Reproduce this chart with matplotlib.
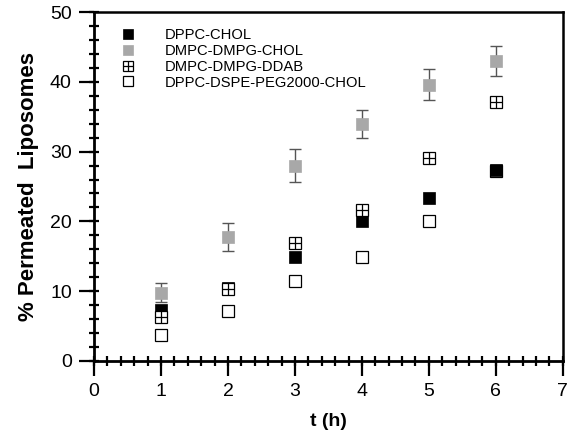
import matplotlib
matplotlib.use('Agg')
import matplotlib.pyplot as plt
from matplotlib.ticker import MultipleLocator

plt.rcParams['font.family'] = ['Liberation Sans', 'DejaVu Sans']

t = [1, 2, 3, 4, 5, 6]
dppc_chol = [7.3, 10.4, 14.9, 20.0, 23.3, 27.4]
dmpc_dmpg_chol = [9.8, 17.7, 28.0, 33.9, 39.6, 43.0]
dmpc_dmpg_chol_err = [1.3, 2.0, 2.4, 2.0, 2.2, 2.2]
dmpc_dmpg_ddab = [6.3, 10.3, 16.9, 21.7, 29.1, 37.1]
dppc_peg = [3.7, 7.1, 11.5, 14.9, 20.1, 27.2]

labels = ['DPPC-CHOL', 'DMPC-DMPG-CHOL', 'DMPC-DMPG-DDAB', 'DPPC-DSPE-PEG2000-CHOL']

fig = plt.figure(figsize=(5.72, 4.37), dpi=100)
ax = fig.add_axes([0.1643, 0.174, 0.8197, 0.7985])

ms = 9
h_open, = ax.plot(t, dppc_peg, 's', ms=ms, mfc='white', mec='black', mew=0.9, zorder=3)
ax.errorbar(t, dmpc_dmpg_chol, yerr=dmpc_dmpg_chol_err, fmt='none', ecolor='#555555',
            elinewidth=1.0, capsize=4, capthick=1.0, zorder=2)
h_gray, = ax.plot(t, dmpc_dmpg_chol, 's', ms=ms, mfc='#a8a8a8', mec='#a8a8a8', mew=0.5, zorder=3)
h_black, = ax.plot(t, dppc_chol, 's', ms=ms, mfc='black', mec='black', mew=0.5, zorder=4)
h_hsq, = ax.plot(t, dmpc_dmpg_ddab, 's', ms=ms, mfc='white', mec='black', mew=0.9, zorder=5)
h_hplus, = ax.plot(t, dmpc_dmpg_ddab, '+', ms=ms, mec='black', mew=0.9, zorder=6)

ax.legend([h_black, h_gray, (h_hsq, h_hplus), h_open], labels,
          loc='upper left', bbox_to_anchor=(0.034, 0.98), frameon=False,
          fontsize=10.6, handlelength=1.2, handletextpad=1.95, labelspacing=0.13,
          borderaxespad=0.0, borderpad=0.6, markerscale=0.8)

ax.set_xlim(0, 7)
ax.set_ylim(0, 50)
ax.xaxis.set_major_locator(MultipleLocator(1))
ax.xaxis.set_minor_locator(MultipleLocator(0.2))
ax.yaxis.set_major_locator(MultipleLocator(10))
ax.yaxis.set_minor_locator(MultipleLocator(2))
ax.xaxis.remove_overlapping_locs = False
ax.yaxis.remove_overlapping_locs = False
ax.tick_params(which='major', direction='out', length=11, width=1.6, labelsize=14, pad=5)
ax.tick_params(which='minor', direction='inout', length=7, width=1.6)
ax.tick_params(top=False, right=False, which='both')

for side in ['left', 'bottom']:
    ax.spines[side].set_linewidth(2.0)
for side in ['top', 'right']:
    ax.spines[side].set_linewidth(1.8)

ax.set_xlabel('t (h)', fontsize=14, fontweight='bold', labelpad=9)
ax.set_ylabel('% Permeated  Liposomes', fontsize=16, fontweight='bold', labelpad=8)

fig.savefig('out.png', dpi=100)
